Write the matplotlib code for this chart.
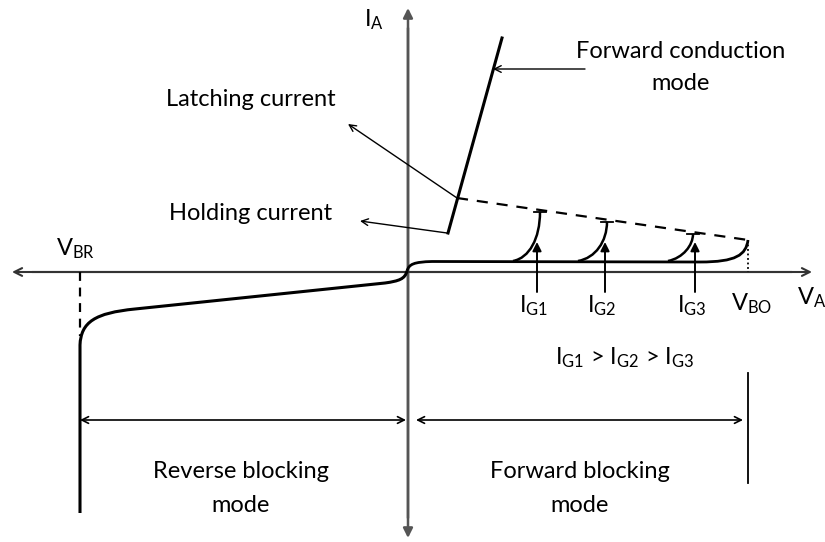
import numpy as np
import matplotlib.pyplot as plt
from matplotlib.patches import FancyArrowPatch, PathPatch
from matplotlib.path import Path

plt.rcParams['font.family'] = ['Lato', 'DejaVu Sans']
plt.rcParams['mathtext.fontset'] = 'custom'
plt.rcParams['mathtext.rm'] = 'Lato'
plt.rcParams['mathtext.it'] = 'Lato'

# ---- diagram geometry (picture coordinates, y grows downward) ----
origin = (408, 272)
x_axis = (12, 812)
y_axis = (538, 8)

# forward blocking characteristic (leakage) up to break-over, as bezier control points
fwd_pts = [(407, 271), (409, 264), (414, 262), (432, 261.5),
           (700, 262),
           (736, 262), (746, 255), (748, 240)]
fwd_codes = [Path.MOVETO, Path.CURVE4, Path.CURVE4, Path.CURVE4,
             Path.LINETO,
             Path.CURVE4, Path.CURVE4, Path.CURVE4]

# reverse blocking characteristic down to avalanche
rev_pts = [(407, 271), (405, 279), (399, 281), (385, 283),
           (135, 309),
           (95, 313), (81, 322), (80, 345),
           (80, 513)]
rev_codes = [Path.MOVETO, Path.CURVE4, Path.CURVE4, Path.CURVE4,
             Path.LINETO,
             Path.CURVE4, Path.CURVE4, Path.CURVE4,
             Path.LINETO]

# forward conduction line
cond_x = [448, 502]
cond_y = [233, 38]

# dashed locus of switching points (latching)
dash_x = [457, 748]
dash_y = [198, 240]

# gate curves: start on leakage line, end on dashed locus
gate_names = ['I$_{\\mathrm{G1}}$', 'I$_{\\mathrm{G2}}$', 'I$_{\\mathrm{G3}}$']
gate_start_x = [513, 578, 668]
gate_top_x = [540, 607, 693]
gate_arrow_x = [537, 605, 695]

vbr_x = 80
vbo_x = 748

fig = plt.figure(figsize=(8.25, 5.42), dpi=100)
ax = fig.add_axes([0, 0, 1, 1])
ax.set_xlim(0, 825)
ax.set_ylim(542, 0)
ax.axis('off')

axis_col = '#555555'


def arrow(p0, p1, lw=1.0, color='black', style='-|>', ms=10):
    a = FancyArrowPatch(p0, p1, arrowstyle=style, mutation_scale=ms,
                        lw=lw, color=color, shrinkA=0, shrinkB=0)
    ax.add_patch(a)


# axes with arrow heads
arrow((origin[0], y_axis[0] - 20), (origin[0], y_axis[1]), lw=1.8, color=axis_col, ms=14)
arrow((origin[0], y_axis[1] + 20), (origin[0], y_axis[0]), lw=1.8, color=axis_col, ms=14)
arrow((x_axis[0] + 20, origin[1]), (x_axis[1], origin[1]), lw=1.5, color='#333333',
      style='->', ms=14)
arrow((x_axis[1] - 20, origin[1]), (x_axis[0], origin[1]), lw=1.5, color='#333333',
      style='->', ms=14)

# characteristic curves
ax.add_patch(PathPatch(Path(fwd_pts, fwd_codes), fill=False, lw=2.0, ec='black'))
ax.add_patch(PathPatch(Path(rev_pts, rev_codes), fill=False, lw=2.2, ec='black'))
ax.plot(cond_x, cond_y, color='black', lw=2.2)
ax.plot(dash_x, dash_y, color='black', lw=1.6, ls=(0, (5, 4)))

# gate trigger curves
for xs, xt in zip(gate_start_x, gate_top_x):
    yt = dash_y[0] + (xt - dash_x[0]) * (dash_y[1] - dash_y[0]) / (dash_x[1] - dash_x[0]) + 2
    p = Path([(xs, 261), (xs + 0.6 * (xt - xs), 258), (xt, 250 - 0.3 * (250 - yt)), (xt, yt)],
             [Path.MOVETO, Path.CURVE4, Path.CURVE4, Path.CURVE4])
    ax.add_patch(PathPatch(p, fill=False, lw=1.8, ec='black'))
    ax.plot([xt - 6, xt + 6], [yt, yt], color='black', lw=1.3)

for xa, name in zip(gate_arrow_x, gate_names):
    arrow((xa, 292), (xa, 242), lw=1.4, ms=13)
    ax.text(xa - 3, 306, name, fontsize=17, ha='center', va='center')

# break-over / breakdown markers
ax.plot([vbo_x, vbo_x], [240, 272], color='black', lw=1.3, ls=(0, (1, 1.5)))
ax.plot([vbr_x, vbr_x], [272, 336], color='black', lw=1.6, ls=(0, (4, 3)))
ax.plot([vbo_x, vbo_x], [373, 483], color='black', lw=1.3)

# mode span arrows
arrow((vbr_x, 420), (origin[0] - 2, 420), lw=1.2, style='<->', ms=12)
arrow((origin[0] + 8, 420), (vbo_x - 5, 420), lw=1.2, style='<->', ms=12)

# annotation pointers
arrow((585, 69), (493, 69), lw=1.0, style='->', ms=12)
arrow((457, 198), (348, 124), lw=1.0, style='->', ms=12)
arrow((447, 233), (360, 221), lw=1.0, style='->', ms=12)

# labels
fs = 17
ax.text(364, 20, 'I$_{\\mathrm{A}}$', fontsize=fs, va='center')
ax.text(797, 298, 'V$_{\\mathrm{A}}$', fontsize=fs, va='center')
ax.text(56, 249, 'V$_{\\mathrm{BR}}$', fontsize=fs, va='center')
ax.text(752, 304, 'V$_{\\mathrm{BO}}$', fontsize=fs, ha='center', va='center')
ax.text(625, 358, 'I$_{\\mathrm{G1}}$ > I$_{\\mathrm{G2}}$ > I$_{\\mathrm{G3}}$',
        fontsize=fs, ha='center', va='center')
ax.text(681, 51, 'Forward conduction', fontsize=fs, ha='center', va='center')
ax.text(681, 84, 'mode', fontsize=fs, ha='center', va='center')
ax.text(251, 100, 'Latching current', fontsize=fs, ha='center', va='center')
ax.text(251, 213, 'Holding current', fontsize=fs, ha='center', va='center')
ax.text(241, 471, 'Reverse blocking', fontsize=fs, ha='center', va='center')
ax.text(241, 505, 'mode', fontsize=fs, ha='center', va='center')
ax.text(580, 471, 'Forward blocking', fontsize=fs, ha='center', va='center')
ax.text(580, 505, 'mode', fontsize=fs, ha='center', va='center')

fig.savefig('out.png', dpi=100)
